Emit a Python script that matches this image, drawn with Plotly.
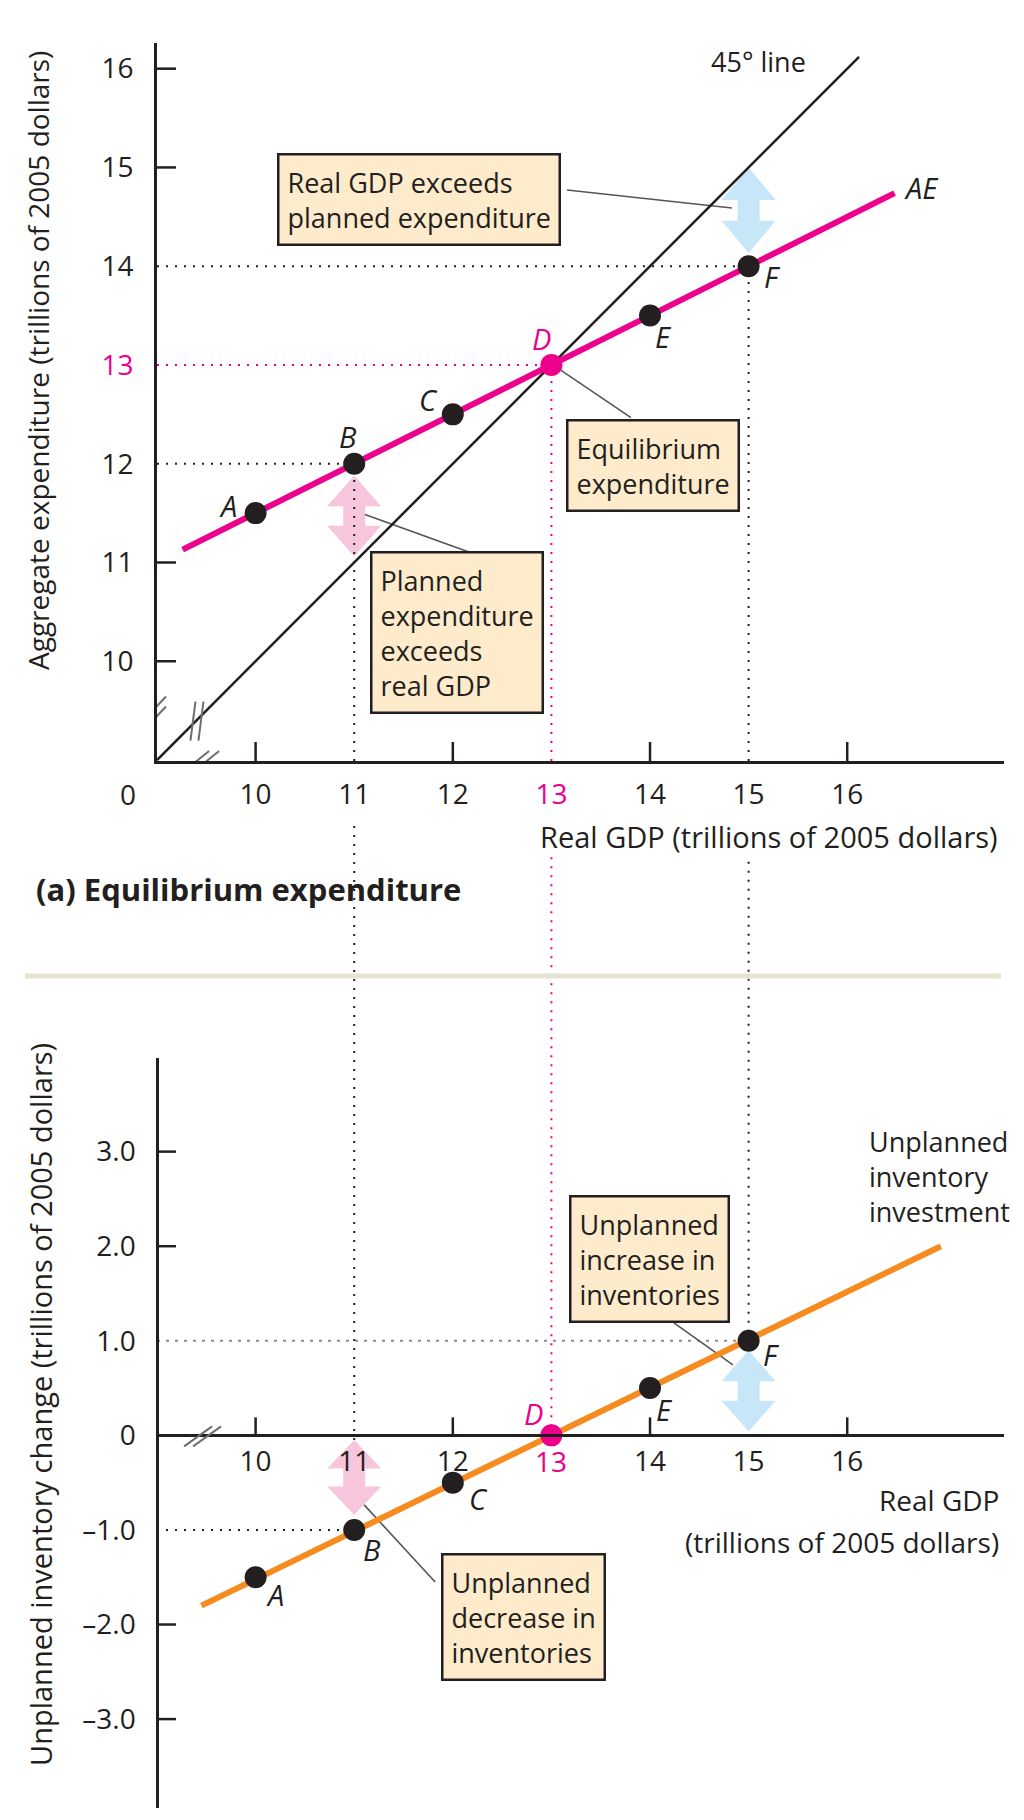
import plotly.graph_objects as go

# ---------------- data ----------------
gdp = [10, 11, 12, 13, 14, 15]
point_labels = ["A", "B", "C", "D", "E", "F"]
aggregate_expenditure = [11.5, 12.0, 12.5, 13.0, 13.5, 14.0]
unplanned_inventory = [-1.5, -1.0, -0.5, 0.0, 0.5, 1.0]

line45_x = [9.0, 16.12]
ae_line_x = [9.26, 16.48]
ae_line_y = [11.13, 14.74]
inv_line_x = [9.45, 16.95]
inv_line_y = [-1.8, 2.0]

x_tick_vals = [10, 11, 12, 13, 14, 15, 16]
top_y_tick_vals = [10, 11, 12, 13, 14, 15, 16]
bot_y_tick_vals = [3, 2, 1, 0, -1, -2, -3]
bot_y_tick_text = ["3.0", "2.0", "1.0", "0", "–1.0", "–2.0", "–3.0"]
x_tick_marks = [10, 12, 14, 16]
top_y_tick_marks = [10, 11, 15, 16]
bot_y_tick_marks = [3, 2, -2, -3]

guide_idx = [1, 3, 5]  # B, D, F

# ---------------- style / page geometry ----------------
PAGE_W, PAGE_H = 1024, 1820
OFF = 8                      # default body margin of the page
W, H = PAGE_W - OFF, PAGE_H - OFF
INK = "#231F20"
MAGENTA = "#EC008C"
ORANGE = "#F68B1F"
BOX_FILL = "#FDEBCB"
BLUE_ARROW = "#C7E7F8"
PINK_ARROW = "#F7C6DD"
LEADER = "#555555"
FONT = "Open Sans"
DOT = "2px,7px"


def px(x):
    return (x - OFF) / W


def py(y):
    return 1 - (y - OFF) / H


X_RANGE = [9.0, 17.59]
TOP_Y_RANGE = [8.99, 16.26]
BOT_Y_RANGE = [-3.94, 3.99]
X_DOM = [px(157), px(1004)]
TOP_Y_DOM = [py(761), py(43)]
BOT_Y_DOM = [py(1808), py(1058)]


def to_paper(v, rng, dom):
    return dom[0] + (v - rng[0]) / (rng[1] - rng[0]) * (dom[1] - dom[0])


def mcolor(i):
    return MAGENTA if point_labels[i] == "D" else INK


fig = go.Figure()

fig.add_trace(go.Scatter(x=line45_x, y=line45_x, mode="lines",
                         line=dict(color=INK, width=2.5), xaxis="x", yaxis="y",
                         hoverinfo="skip", showlegend=False))
fig.add_trace(go.Scatter(x=ae_line_x, y=ae_line_y, mode="lines",
                         line=dict(color=MAGENTA, width=6), xaxis="x", yaxis="y",
                         hoverinfo="skip", showlegend=False))
fig.add_trace(go.Scatter(x=gdp, y=aggregate_expenditure, mode="markers",
                         marker=dict(size=22, color=[mcolor(i) for i in range(len(gdp))]),
                         xaxis="x", yaxis="y", hoverinfo="skip", showlegend=False))
fig.add_trace(go.Scatter(x=inv_line_x, y=inv_line_y, mode="lines",
                         line=dict(color=ORANGE, width=6), xaxis="x2", yaxis="y2",
                         hoverinfo="skip", showlegend=False))
fig.add_trace(go.Scatter(x=gdp, y=unplanned_inventory, mode="markers",
                         marker=dict(size=22, color=[mcolor(i) for i in range(len(gdp))]),
                         xaxis="x2", yaxis="y2", hoverinfo="skip", showlegend=False))

shapes = []


def arrow(xv, ylo, yhi, color, xref, yref):
    h = 0.38 * (yhi - ylo)
    hw, sw = 27, 11
    path = (f"M 0,{yhi} L {hw},{yhi - h} L {sw},{yhi - h} L {sw},{ylo + h} "
            f"L {hw},{ylo + h} L 0,{ylo} L {-hw},{ylo + h} L {-sw},{ylo + h} "
            f"L {-sw},{yhi - h} L {-hw},{yhi - h} Z")
    return dict(type="path", path=path, xref=xref, yref=yref, xsizemode="pixel",
                xanchor=xv, fillcolor=color, line=dict(width=0), layer="below")


iF, iB = 5, 1
shapes.append(arrow(gdp[iF], aggregate_expenditure[iF] + 0.13, gdp[iF], BLUE_ARROW, "x", "y"))
shapes.append(arrow(gdp[iB], gdp[iB] + 0.06, aggregate_expenditure[iB] - 0.12, PINK_ARROW, "x", "y"))
shapes.append(arrow(gdp[iF], 0.04, unplanned_inventory[iF] - 0.1, BLUE_ARROW, "x2", "y2"))
shapes.append(arrow(gdp[iB], unplanned_inventory[iB] + 0.16, -0.05, PINK_ARROW, "x2", "y2"))

for i in guide_idx:
    c = mcolor(i)
    shapes.append(dict(type="line", xref="x", yref="y", x0=X_RANGE[0], x1=gdp[i],
                       y0=aggregate_expenditure[i], y1=aggregate_expenditure[i],
                       line=dict(color=c, width=2, dash=DOT), layer="below"))
    shapes.append(dict(type="line", xref="x", yref="y", x0=gdp[i], x1=gdp[i],
                       y0=TOP_Y_RANGE[0], y1=aggregate_expenditure[i],
                       line=dict(color=c, width=2, dash=DOT), layer="below"))
    y_top = TOP_Y_DOM[0] - 62 / H
    y_bot = to_paper(unplanned_inventory[i], BOT_Y_RANGE, BOT_Y_DOM)
    shapes.append(dict(type="line", xref="x", yref="paper", x0=gdp[i], x1=gdp[i],
                       y0=y_bot, y1=y_top,
                       line=dict(color=c, width=2, dash=DOT), layer="below"))
shapes.append(dict(type="line", xref="x2", yref="y2", x0=X_RANGE[0], x1=gdp[iF],
                   y0=unplanned_inventory[iF], y1=unplanned_inventory[iF],
                   line=dict(color="#8C8C8C", width=2, dash="3px,6px"), layer="below"))
shapes.append(dict(type="line", xref="x2", yref="y2", x0=X_RANGE[0], x1=gdp[iB],
                   y0=unplanned_inventory[iB], y1=unplanned_inventory[iB],
                   line=dict(color=INK, width=2, dash=DOT), layer="below"))

leaders = [
    ("x", "y", 13.158, 14.772, 14.831, 14.590),
    ("x", "y", 13.087, 12.952, 13.807, 12.466),
    ("x", "y", 11.109, 11.485, 12.205, 11.090),
    ("x2", "y2", 14.243, 1.189, 14.841, 0.745),
    ("x2", "y2", 11.101, -0.735, 11.821, -1.550),
]
for xr, yr, x0, y0, x1, y1 in leaders:
    shapes.append(dict(type="line", xref=xr, yref=yr, x0=x0, y0=y0, x1=x1, y1=y1,
                       line=dict(color=LEADER, width=1.6), layer="below"))

for v in x_tick_marks:
    shapes.append(dict(type="line", xref="x", yref="y", ysizemode="pixel",
                       yanchor=TOP_Y_RANGE[0], x0=v, x1=v, y0=0, y1=19,
                       line=dict(color=INK, width=2.5)))
    shapes.append(dict(type="line", xref="x2", yref="y2", ysizemode="pixel",
                       yanchor=0, x0=v, x1=v, y0=0, y1=18,
                       line=dict(color=INK, width=2.5)))
for v in top_y_tick_marks:
    shapes.append(dict(type="line", xref="x", yref="y", xsizemode="pixel",
                       xanchor=X_RANGE[0], x0=0, x1=19, y0=v, y1=v,
                       line=dict(color=INK, width=2.5)))
for v in bot_y_tick_marks:
    shapes.append(dict(type="line", xref="x2", yref="y2", xsizemode="pixel",
                       xanchor=X_RANGE[0], x0=0, x1=19, y0=v, y1=v,
                       line=dict(color=INK, width=2.5)))


def brk(xr, yr, xa, ya, segs):
    out = []
    for (a, b, c, d) in segs:
        out.append(dict(type="line", xref=xr, yref=yr, xsizemode="pixel", ysizemode="pixel",
                        xanchor=xa, yanchor=ya, x0=a, y0=b, x1=c, y1=d,
                        line=dict(color="#6E6E6E", width=2)))
    return out


shapes += brk("x", "y", X_RANGE[0], 9.44, [(-13, -3, 9, 20), (-13, -13, 9, 10)])
shapes += brk("x", "y", 9.4, 9.4, [(-6, -20, -1, 19), (2, -20, 7, 19)])
shapes += brk("x", "y", 9.437, TOP_Y_RANGE[0], [(-17, -11, 9, 10), (-7, -11, 19, 10)])
shapes += brk("x2", "y2", 9.437, 0, [(-16, -11, 12, 9), (-7, -11, 21, 9)])

shapes.append(dict(type="line", xref="paper", yref="paper", x0=px(25), x1=px(1001),
                   y0=py(976), y1=py(976), line=dict(color="#E6E3D3", width=5)))

annotations = []


def txt(text, x, y, xr="x", yr="y", size=27, color=INK, xanchor="center",
        yanchor="middle", xshift=0, yshift=0, align="left", **kw):
    d = dict(text=text, x=x, y=y, xref=xr, yref=yr, showarrow=False,
             font=dict(family=FONT, size=size, color=color), xanchor=xanchor,
             yanchor=yanchor, xshift=xshift, yshift=yshift, align=align)
    d.update(kw)
    annotations.append(d)


def box(text, x, y, xr, yr):
    txt(text, x, y, xr, yr, size=27, bgcolor=BOX_FILL, bordercolor=INK,
        borderwidth=2.5, borderpad=8)


box("Real GDP exceeds<br>planned expenditure", 11.662, 14.676, "x", "y")
box("Equilibrium<br>expenditure", 14.030, 11.979, "x", "y")
box("Planned<br>expenditure<br>exceeds<br>real GDP", 12.041, 10.293, "x", "y")
box("Unplanned<br>increase in<br>inventories", 13.995, 1.861, "x2", "y2")
box("Unplanned<br>decrease in<br>inventories", 12.717, -1.916, "x2", "y2")

txt("45° line", 14.597, 16.068, size=27, xanchor="left")
txt("<i>AE</i>", 16.555, 14.802, size=29, xanchor="left")
txt("Unplanned<br>inventory<br>investment", 16.20, 2.733, "x2", "y2", size=27, xanchor="left")

top_shift = {"A": (-28, 8), "B": (-6, 27), "C": (-24, 15), "D": (-10, 26), "E": (13, -21), "F": (24, -10)}
bot_shift = {"A": (19, -17), "B": (18, -20), "C": (26, -16), "D": (-18, 22), "E": (14, -21), "F": (23, -14)}
for i, lab in enumerate(point_labels):
    sx, sy = top_shift[lab]
    txt(f"<i>{lab}</i>", gdp[i], aggregate_expenditure[i], size=29, color=mcolor(i),
        xshift=sx, yshift=sy)
    sx, sy = bot_shift[lab]
    txt(f"<i>{lab}</i>", gdp[i], unplanned_inventory[i], "x2", "y2", size=29,
        color=mcolor(i), xshift=sx, yshift=sy)

txt("0", X_RANGE[0], TOP_Y_RANGE[0], size=28, xshift=-29, yshift=-33)
txt("13", 13, 0, "x2", "y2", size=28, color=MAGENTA, yshift=-26)

txt("Real GDP (trillions of 2005 dollars)", px(999), py(837), "paper", "paper",
    size=29, xanchor="right", bgcolor="white", borderpad=0)
txt("Real GDP", px(1001), py(1500), "paper", "paper", size=28, xanchor="right")
txt("(trillions of 2005 dollars)", px(1001), py(1542), "paper", "paper", size=28,
    xanchor="right")
txt("Aggregate expenditure (trillions of 2005 dollars)", px(38), py(361),
    "paper", "paper", size=28, textangle=-90)
txt("Unplanned inventory change (trillions of 2005 dollars)", px(40), py(1405),
    "paper", "paper", size=29, textangle=-90)
txt("<b>(a) Equilibrium expenditure</b>", px(34), py(889), "paper", "paper",
    size=31, xanchor="left")


def tick_text(vals):
    return [f"<span style='color:{MAGENTA}'>{v}</span>" if v == 13 else str(v) for v in vals]


axis_common = dict(showgrid=False, zeroline=False, showline=True, linecolor=INK,
                   linewidth=2.5, ticks="", tickmode="array",
                   tickfont=dict(family=FONT, size=28, color=INK), fixedrange=True)

bot_x_vals = [v for v in x_tick_vals if v != 13]

fig.update_layout(
    width=W, height=H, autosize=False,
    margin=dict(l=0, r=0, t=0, b=0),
    paper_bgcolor="white", plot_bgcolor="white",
    showlegend=False,
    xaxis=dict(domain=X_DOM, range=X_RANGE, anchor="y", tickvals=x_tick_vals,
               ticktext=tick_text(x_tick_vals), ticklabelstandoff=7, **axis_common),
    yaxis=dict(domain=TOP_Y_DOM, range=TOP_Y_RANGE, anchor="x", tickvals=top_y_tick_vals,
               ticktext=tick_text(top_y_tick_vals), ticklabelstandoff=15, **axis_common),
    xaxis2=dict(domain=X_DOM, range=X_RANGE, anchor="free",
                position=to_paper(0, BOT_Y_RANGE, BOT_Y_DOM),
                tickvals=bot_x_vals, ticktext=[str(v) for v in bot_x_vals],
                ticklabelstandoff=0, **axis_common),
    yaxis2=dict(domain=BOT_Y_DOM, range=BOT_Y_RANGE, anchor="free", position=X_DOM[0],
                tickvals=bot_y_tick_vals, ticktext=bot_y_tick_text,
                ticklabelstandoff=15, **axis_common),
    shapes=shapes,
    annotations=annotations,
)

fig.write_html("out.html")
